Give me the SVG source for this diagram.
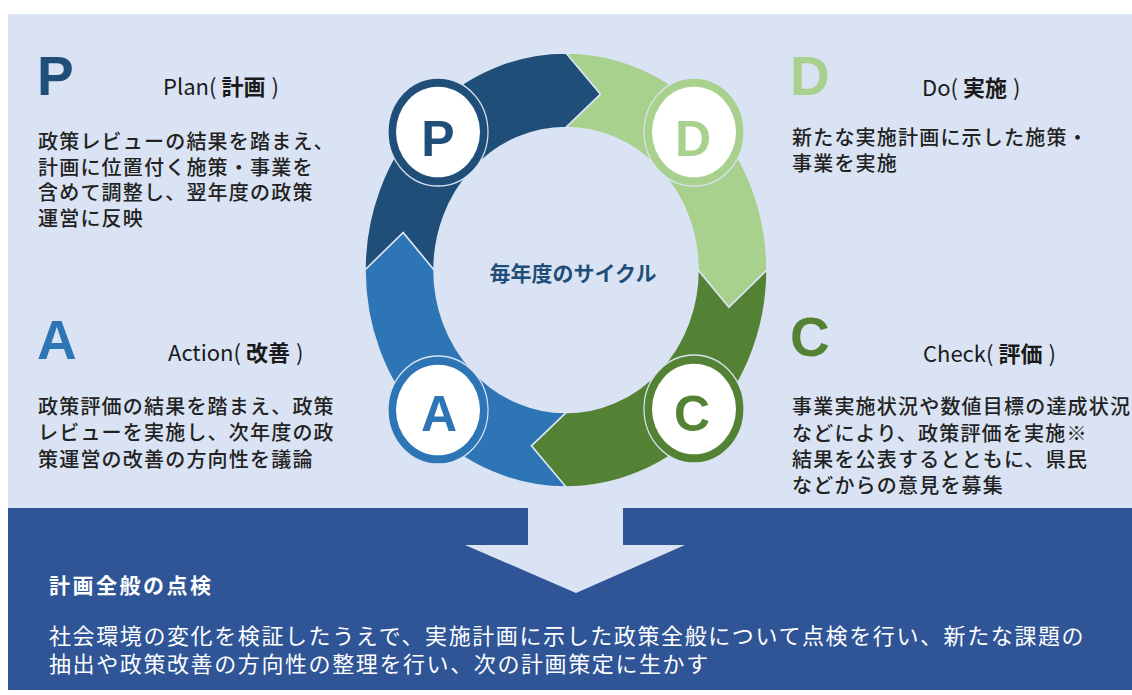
<svg xmlns="http://www.w3.org/2000/svg" width="1132" height="695" viewBox="0 0 1132 695">
<style>
.big{font-family:"Liberation Sans",Arial,sans-serif;font-weight:bold;font-size:55px}
.ttl{font-family:"Noto Sans CJK JP",sans-serif;font-size:22px;fill:#1a1a1a}
.ttl .k{font-weight:bold}
.body{font-family:"Noto Sans CJK JP",sans-serif;font-size:20px;font-weight:500;fill:#222;letter-spacing:1.2px}
.seg{stroke:#dae3f3;stroke-width:1.5;stroke-linejoin:miter}
.ring{stroke:#dae3f3;stroke-width:1.2}
.let{font-family:"Liberation Sans",Arial,sans-serif;font-weight:bold;font-size:50px;text-anchor:middle}
.btm{font-family:"Noto Sans CJK JP",sans-serif;fill:#ffffff}
</style>
<rect x="0" y="0" width="1132" height="695" fill="#ffffff"/>
<rect x="8" y="14" width="1124" height="495" fill="#dae3f3"/>
<rect x="8" y="508" width="1124" height="182" fill="#2f5597"/>
<polygon points="528,506 623,506 623,545 685,545 576,593 465,545 528,545" fill="#dae3f3"/>

<g id="connectors">
<g transform="translate(566,270) scale(1,1.08)">
<path class="seg" fill="#1f4e79" d="M-201,0 A201,201 0 0 1 0,-201 L34.62,-162.86 L0,-132 A132,132 0 0 0 -132,0 L-162.86,-34.62 Z"/>
<path class="seg" fill="#a9d18e" d="M0,-201 A201,201 0 0 1 201,0 L162.86,34.62 L132,0 A132,132 0 0 0 0,-132 L34.62,-162.86 Z"/>
<path class="seg" fill="#548235" d="M201,0 A201,201 0 0 1 0,201 L-34.62,162.86 L0,132 A132,132 0 0 0 132,0 L162.86,34.62 Z"/>
<path class="seg" fill="#2e75b6" d="M0,201 A201,201 0 0 1 -201,0 L-162.86,-34.62 L-132,0 A132,132 0 0 0 0,132 L-34.62,162.86 Z"/>
</g>
</g>

<g id="node-p">
<g transform="translate(438,132) scale(1,1.08)">
<circle class="ring" r="50" fill="#1f4e79"/>
<circle r="42" fill="#ffffff"/>
</g>
<text class="let" x="438" y="156" fill="#1f4e79">P</text>
</g>
<g id="node-d">
<g transform="translate(694,132) scale(1,1.08)">
<circle class="ring" r="50" fill="#a9d18e"/>
<circle r="42" fill="#ffffff"/>
</g>
<text class="let" x="693" y="156" fill="#a9d18e">D</text>
</g>
<g id="node-c">
<g transform="translate(694,409) scale(1,1.08)">
<circle class="ring" r="50" fill="#548235"/>
<circle r="42" fill="#ffffff"/>
</g>
<text class="let" x="692" y="431" fill="#548235">C</text>
</g>
<g id="node-a">
<g transform="translate(438,410) scale(1,1.08)">
<circle class="ring" r="50" fill="#2e75b6"/>
<circle r="42" fill="#ffffff"/>
</g>
<text class="let" x="439" y="431" fill="#2e75b6">A</text>
</g>

<g id="center-label">
<text x="573" y="281" text-anchor="middle" font-family="'Noto Sans CJK JP',sans-serif" font-weight="bold" font-size="21" fill="#1f4e79">毎年度のサイクル</text>
</g>

<g id="plan">
<text class="big" x="37" y="95" fill="#1f4e79">P</text>
<text class="ttl" x="163" y="95">Plan(<tspan class="k" dx="5">計画</tspan><tspan dx="6">)</tspan></text>
<text class="body"><tspan x="38" y="149">政策レビューの結果を踏まえ、</tspan><tspan x="38" y="175">計画に位置付く施策・事業を</tspan><tspan x="38" y="200">含めて調整し、翌年度の政策</tspan><tspan x="38" y="226">運営に反映</tspan></text>
</g>

<g id="do">
<text class="big" x="790" y="95" fill="#a9d18e">D</text>
<text class="ttl" x="922" y="96">Do(<tspan class="k" dx="5">実施</tspan><tspan dx="6">)</tspan></text>
<text class="body"><tspan x="792" y="145">新たな実施計画に示した施策・</tspan><tspan x="792" y="171">事業を実施</tspan></text>
</g>

<g id="action">
<text class="big" x="37" y="359" fill="#2e75b6">A</text>
<text class="ttl" x="168" y="361">Action(<tspan class="k" dx="5">改善</tspan><tspan dx="6">)</tspan></text>
<text class="body"><tspan x="38" y="414">政策評価の結果を踏まえ、政策</tspan><tspan x="38" y="440">レビューを実施し、次年度の政</tspan><tspan x="38" y="467">策運営の改善の方向性を議論</tspan></text>
</g>

<g id="check">
<text class="big" x="790" y="356" fill="#548235">C</text>
<text class="ttl" x="923" y="362">Check(<tspan class="k" dx="5">評価</tspan><tspan dx="6">)</tspan></text>
<text class="body"><tspan x="792" y="414">事業実施状況や数値目標の達成状況</tspan><tspan x="792" y="441">などにより、政策評価を実施※</tspan><tspan x="792" y="467">結果を公表するとともに、県民</tspan><tspan x="792" y="493">などからの意見を募集</tspan></text>
</g>

<g id="overall">
<text class="btm" x="49" y="593" font-size="21" font-weight="bold" letter-spacing="2.5">計画全般の点検</text>
<text class="btm" font-size="22" letter-spacing="1.6"><tspan x="49" y="644">社会環境の変化を検証したうえで、実施計画に示した政策全般について点検を行い、新たな課題の</tspan><tspan x="49" y="672">抽出や政策改善の方向性の整理を行い、次の計画策定に生かす</tspan></text>
</g>
</svg>
